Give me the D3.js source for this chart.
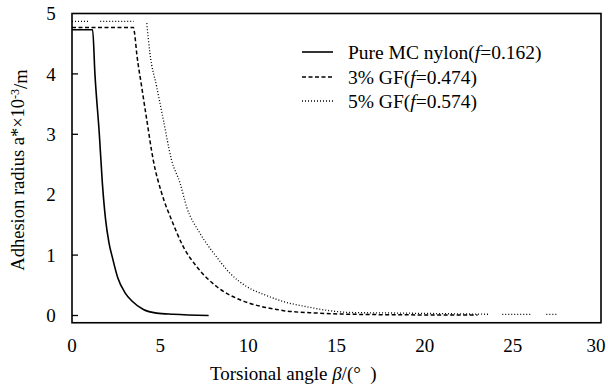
<!DOCTYPE html>
<html>
<head>
<meta charset="utf-8">
<script src="https://cdn.jsdelivr.net/npm/d3@7"></script>
<style>
  body { margin: 0; background: #fff; }
  svg text { font-family: "Liberation Serif", "Times New Roman", serif; fill: #000; }
</style>
</head>
<body>
<div id="chart"></div>
<script>
//////////////////////////// data /////////////////////////////////////////

// torsional angle (deg) / adhesion radius (x10^-3 m)
const pureAngle = [0, 1.17, 1.3, 1.55, 1.72, 1.9, 2.1, 2.3, 2.6, 3.0, 3.4, 4.05, 4.8, 5.75, 7.75];
const pureRadius = [4.73, 4.73, 4.0, 3.0, 2.2, 1.6, 1.2, 0.95, 0.62, 0.38, 0.24, 0.1, 0.04, 0.02, 0.0];

const gf3Angle = [0, 3.48, 3.55, 3.67, 3.95, 4.24, 4.61, 5.09, 5.65, 6.31, 7.07, 8.2, 9.53, 10.1, 11.6, 12.0, 13.9, 16, 20, 23.0];
const gf3Radius = [4.77, 4.77, 4.67, 4.34, 3.79, 3.24, 2.57, 2.02, 1.58, 1.14, 0.81, 0.48, 0.26, 0.2, 0.10, 0.08, 0.04, 0.02, 0.01, 0.01];

// null marks a gap in the dotted curve
const gf5Angle = [0, 1.0, 1.3, 1.6, 3.5, 3.9, 4.24, 4.42, 4.80, 5.18, 5.65, 6.13, 6.50, 7.26, 8.2, 8.96, 9.9, 10.95, 12.0, 13.4, 14.6, 15.8, 18.6, 23.7, 24.0, 24.4, 26.1, 26.5, 26.9, 27.5];
const gf5Radius = [4.87, 4.87, null, 4.87, 4.87, null, 4.84, 4.34, 3.79, 3.24, 2.57, 2.19, 1.80, 1.36, 0.97, 0.70, 0.48, 0.34, 0.23, 0.14, 0.08, 0.05, 0.04, 0.02, null, 0.02, 0.02, null, 0.02, 0.02];

const seriesNames = ["Pure MC nylon", "3% GF", "5% GF"];
const frictionValues = ["0.162", "0.474", "0.574"];

const xTicks = [0, 5, 10, 15, 20, 25, 30];
const yTickLabels = [0, 1, 2, 3, 4, 5];
const yTickMarks = [0, 1, 3, 4];

//////////////////////////// svg ///////////////////////////////////

const width = 608;
const height = 386;

const svg = d3.select("#chart").append("svg")
	.attr("width", width)
	.attr("height", height);

//////////////////////////// scales ///////////////////////////////////////

const xScale = d3.scaleLinear().domain([0, 30]).range([72, 601]);
const yScale = d3.scaleLinear().domain([0, 5]).range([315.5, 13.5]);
const yBottom = yScale(-0.12);

// plot frame
svg.append("rect")
	.attr("x", xScale(0))
	.attr("y", yScale(5))
	.attr("width", xScale(30) - xScale(0))
	.attr("height", yBottom - yScale(5))
	.attr("fill", "none")
	.attr("stroke", "#000")
	.attr("stroke-width", 1.6);

//////////////////////////// axes ///////////////////////////////////////

// y tick marks point inward
svg.selectAll(".ytick")
	.data(yTickMarks)
	.enter()
	.append("line")
	.attr("x1", xScale(0))
	.attr("x2", xScale(0) + 6)
	.attr("y1", (d) => yScale(d))
	.attr("y2", (d) => yScale(d))
	.attr("stroke", "#000")
	.attr("stroke-width", 1.3);

svg.selectAll(".ylab")
	.data(yTickLabels)
	.enter()
	.append("text")
	.attr("x", 51)
	.attr("y", (d) => yScale(d))
	.attr("dy", "0.35em")
	.attr("text-anchor", "middle")
	.style("font-size", "19px")
	.text((d) => d);

// last label sits just inside the window edge
svg.selectAll(".xlab")
	.data(xTicks)
	.enter()
	.append("text")
	.attr("x", (d) => Math.min(xScale(d), width - 12))
	.attr("y", 345)
	.attr("dy", "0.35em")
	.attr("text-anchor", "middle")
	.style("font-size", "19px")
	.text((d) => d);

// axis titles
const xTitle = svg.append("text")
	.attr("x", 210)
	.attr("y", 373)
	.attr("dy", "0.35em")
	.style("font-size", "19px");
xTitle.append("tspan").text("Torsional angle ");
xTitle.append("tspan").style("font-style", "italic").text("β");
xTitle.append("tspan").text("/(°\u2002)");

const yTitle = svg.append("text")
	.attr("transform", `translate(18,170) rotate(-90)`)
	.attr("dy", "0.35em")
	.attr("text-anchor", "middle")
	.style("font-size", "18.5px");
yTitle.append("tspan").text("Adhesion radius a*×10");
yTitle.append("tspan").attr("dy", "-0.45em").style("font-size", "12px").text("-3");
yTitle.append("tspan").attr("dy", "0.45em").text("/m");

//////////////////////////// lines ///////////////////////////////////////

const styles = [
	{ dash: null, width: 1.6 },
	{ dash: "4,2.5", width: 1.5 },
	{ dash: "1,2", width: 1.3 }
];

const toPoints = (xs, ys) => xs.map((x, i) => ({ x: x, y: ys[i] }));
const series = [
	toPoints(pureAngle, pureRadius),
	toPoints(gf3Angle, gf3Radius),
	toPoints(gf5Angle, gf5Radius)
];

const line = d3.line()
	.defined((d) => d.y !== null)
	.curve(d3.curveMonotoneX)
	.x((d) => xScale(d.x))
	.y((d) => yScale(d.y));

svg.selectAll(".series")
	.data(series)
	.enter()
	.append("path")
	.attr("d", line)
	.attr("fill", "none")
	.attr("stroke", "#000")
	.attr("stroke-width", (d, i) => styles[i].width)
	.attr("stroke-dasharray", (d, i) => styles[i].dash);

//////////////////////////// legend ///////////////////////////////////////

const legend = svg.append("g");
const legendY = [52, 77, 101];

seriesNames.forEach((name, i) => {
	legend.append("line")
		.attr("x1", 302)
		.attr("x2", 333)
		.attr("y1", legendY[i])
		.attr("y2", legendY[i])
		.attr("stroke", "#000")
		.attr("stroke-width", styles[i].width)
		.attr("stroke-dasharray", styles[i].dash);

	const t = legend.append("text")
		.attr("x", 348)
		.attr("y", legendY[i])
		.attr("dy", "0.35em")
		.style("font-size", "19.5px");
	t.append("tspan").text(name + "(");
	t.append("tspan").style("font-style", "italic").text("f");
	t.append("tspan").text("=" + frictionValues[i] + ")");
});
</script>
</body>
</html>
